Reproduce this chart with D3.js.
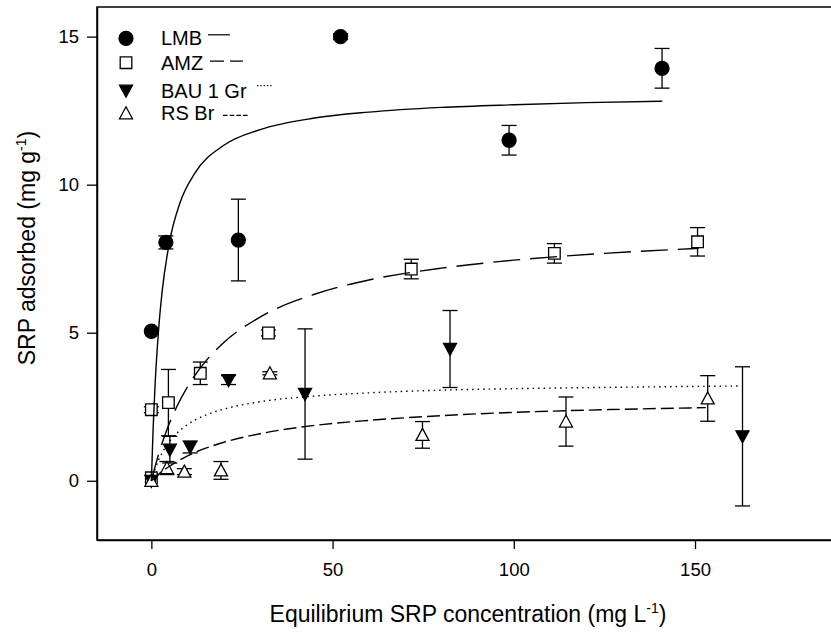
<!DOCTYPE html>
<html>
<head>
<meta charset="utf-8">
<script src="https://cdn.jsdelivr.net/npm/d3@7"></script>
<style>
  html, body { margin: 0; padding: 0; background: #fff; }
  svg { display: block; }
  text { font-family: "Liberation Sans", Arial, sans-serif; fill: #000; }
</style>
</head>
<body>
<svg id="chart" width="831" height="632"></svg>
<script>
// ---------- data ----------
const xTicks = [0, 50, 100, 150];
const yTicks = [0, 5, 10, 15];

// LMB (filled circles, solid fit)
const lmbX   = [0, 4.0, 24.0, 52.2, 98.7, 140.9];
const lmbY   = [5.05, 8.05, 8.13, 15.0, 11.5, 13.93];
const lmbErr = [0, 0.22, 1.38, 0.1, 0.5, 0.67];
const lmbFitX = [0, 0.5, 1, 2, 3, 5, 8, 12, 20, 30, 45, 60, 80, 100, 120, 141];
const lmbFitY = [0, 1.81, 3.18, 5.11, 6.42, 8.06, 9.42, 10.39, 11.33, 11.86, 12.25, 12.45, 12.61, 12.70, 12.77, 12.82];

// AMZ (open squares, long-dash fit)
const amzX   = [0, 0, 4.7, 13.5, 32.3, 71.7, 111.2, 150.7];
const amzY   = [0.1, 2.4, 2.64, 3.63, 4.99, 7.15, 7.68, 8.07];
const amzErr = [0, 0.1, 1.12, 0.38, 0.1, 0.33, 0.33, 0.48];
const amzFitX = [0, 1, 2, 4, 7, 10, 15, 20, 30, 45, 60, 80, 100, 125, 151];
const amzFitY = [0, 0.47, 0.90, 1.63, 2.50, 3.18, 4.04, 4.67, 5.53, 6.30, 6.78, 7.18, 7.45, 7.68, 7.85];

// BAU 1 Gr (filled down-triangles, dotted fit)
const bauX   = [0, 5.1, 10.7, 21.3, 42.4, 82.4, 163.1];
const bauY   = [0, 1.05, 1.14, 3.4, 2.93, 4.45, 1.5];
const bauErr = [0, 0.45, 0.2, 0.15, 2.2, 1.3, 2.35];
const bauFitX = [0, 1, 2, 4, 7, 10, 15, 20, 30, 45, 60, 80, 100, 130, 162];
const bauFitY = [0, 0.39, 0.70, 1.15, 1.60, 1.90, 2.22, 2.42, 2.67, 2.86, 2.97, 3.06, 3.11, 3.16, 3.20];

// RS Br (open up-triangles, short-dash fit)
const rsX   = [0, 4.3, 9.1, 19.2, 32.7, 74.8, 114.4, 153.5];
const rsY   = [0, 0.43, 0.31, 0.35, 3.63, 1.55, 2.0, 2.78];
const rsErr = [0, 0.22, 0.1, 0.3, 0.05, 0.45, 0.83, 0.77];
const rsFitX = [0, 2, 5, 10, 15, 20, 30, 45, 60, 80, 100, 125, 153];
const rsFitY = [0, 0.22, 0.49, 0.84, 1.10, 1.30, 1.59, 1.87, 2.04, 2.20, 2.31, 2.40, 2.47];

const seriesNames = ["LMB", "AMZ", "BAU 1 Gr", "RS Br"];

// ---------- build ----------
const svg = d3.select("#chart");
const x = d3.scaleLinear().domain([-15, 190]).range([97, 840]);
const y = d3.scaleLinear().domain([-2, 16]).range([540, 7]);

const series = [
  { name: seriesNames[0], xs: lmbX, ys: lmbY, es: lmbErr, fx: lmbFitX, fy: lmbFitY, shape: "circle", dash: null },
  { name: seriesNames[1], xs: amzX, ys: amzY, es: amzErr, fx: amzFitX, fy: amzFitY, shape: "square", dash: "27,10" },
  { name: seriesNames[2], xs: bauX, ys: bauY, es: bauErr, fx: bauFitX, fy: bauFitY, shape: "tdown", dash: "1.5,4" },
  { name: seriesNames[3], xs: rsX, ys: rsY, es: rsErr, fx: rsFitX, fy: rsFitY, shape: "tup", dash: "13,5" }
];

// frame
svg.append("rect")
  .attr("x", x.range()[0]).attr("y", y.range()[1])
  .attr("width", x.range()[1] - x.range()[0])
  .attr("height", y.range()[0] - y.range()[1])
  .attr("fill", "none").attr("stroke", "#000").attr("stroke-width", 1.5);

// axes
const xAxis = svg.append("g").attr("transform", `translate(0,${y.range()[0]})`)
  .call(d3.axisBottom(x).tickValues(xTicks).tickSize(9).tickSizeOuter(0).tickPadding(14));
const yAxis = svg.append("g").attr("transform", `translate(${x.range()[0]},0)`)
  .call(d3.axisLeft(y).tickValues(yTicks).tickSize(10).tickSizeOuter(0).tickPadding(8));
[xAxis, yAxis].forEach(g => {
  g.select(".domain").attr("stroke", "#000").attr("stroke-width", 1.5);
  g.selectAll(".tick line").attr("stroke", "#000").attr("stroke-width", 1.3);
  g.selectAll(".tick text").attr("font-size", 18.5).attr("font-family", "Liberation Sans, Arial, sans-serif").attr("fill", "#000");
});

// axis titles
const xt = svg.append("text").attr("x", 468).attr("y", 622).attr("text-anchor", "middle").attr("font-size", 23);
xt.append("tspan").text("Equilibrium SRP concentration (mg L");
xt.append("tspan").attr("dy", -9).attr("font-size", 14).text("-1");
xt.append("tspan").attr("dy", 9).text(")");

const yt = svg.append("text").attr("transform", "translate(35,248) rotate(-90)").attr("text-anchor", "middle").attr("font-size", 23);
yt.append("tspan").text("SRP adsorbed (mg g");
yt.append("tspan").attr("dy", -9).attr("font-size", 14).text("-1");
yt.append("tspan").attr("dy", 9).text(")");

// marker path helper (relative to centre)
function markerPath(shape) {
  if (shape === "circle") return d3.symbol(d3.symbolCircle, Math.PI * 7 * 7)();
  if (shape === "square") return "M-5.8,-5.8H5.8V5.8H-5.8Z";
  if (shape === "tdown") return "M-6.5,-5.5H6.5L0,6.5Z";
  return "M0,-6.5L6.5,5.5H-6.5Z";
}
function markerFill(shape) { return (shape === "circle" || shape === "tdown") ? "#000" : "#fff"; }

const plot = svg.append("g");

// error bars
series.forEach(s => {
  const g = plot.append("g");
  s.xs.forEach((xv, i) => {
    const e = s.es[i];
    if (!e) return;
    const cx = x(xv), top = y(s.ys[i] + e), bot = y(s.ys[i] - e);
    g.append("line").attr("x1", cx).attr("x2", cx).attr("y1", top).attr("y2", bot)
      .attr("stroke", "#000").attr("stroke-width", 1.3);
    [top, bot].forEach(cy => g.append("line").attr("x1", cx - 7.5).attr("x2", cx + 7.5)
      .attr("y1", cy).attr("y2", cy).attr("stroke", "#000").attr("stroke-width", 1.3));
  });
});

// markers
series.forEach(s => {
  plot.append("g").selectAll("path").data(s.xs.map((v, i) => [v, s.ys[i]])).join("path")
    .attr("transform", d => `translate(${x(d[0])},${y(d[1])})`)
    .attr("d", markerPath(s.shape))
    .attr("fill", markerFill(s.shape))
    .attr("stroke", "#000").attr("stroke-width", 1.3);
});

// fitted curves
const line = d3.line().x(d => x(d[0])).y(d => y(d[1])).curve(d3.curveMonotoneX);
series.forEach(s => {
  plot.append("path").datum(s.fx.map((v, i) => [v, s.fy[i]]))
    .attr("d", line).attr("fill", "none").attr("stroke", "#000")
    .attr("stroke-width", 1.4)
    .attr("stroke-dasharray", s.dash);
});

// legend
const legRows = [38.3, 62.7, 90.7, 113.3];
const legSamples = [
  { x1: 208, x2: 230, dy: -3.5, dash: null },
  { x1: 210, x2: 243, dy: -1.5, dash: "14,6" },
  { x1: 257, x2: 273, dy: -5, dash: "1.3,2" },
  { x1: 223, x2: 248, dy: 2, dash: "4.5,2.2" }
];
series.forEach((s, i) => {
  const ly = legRows[i];
  svg.append("path").attr("transform", `translate(126,${ly})`).attr("d", markerPath(s.shape))
    .attr("fill", markerFill(s.shape)).attr("stroke", "#000").attr("stroke-width", 1.3);
  svg.append("text").attr("x", 161).attr("y", ly + 7).attr("font-size", 20).text(s.name);
  const ls = legSamples[i];
  svg.append("line").attr("x1", ls.x1).attr("x2", ls.x2).attr("y1", ly + ls.dy).attr("y2", ly + ls.dy)
    .attr("stroke", "#000").attr("stroke-width", 1.2).attr("stroke-dasharray", ls.dash);
});
</script>
</body>
</html>
